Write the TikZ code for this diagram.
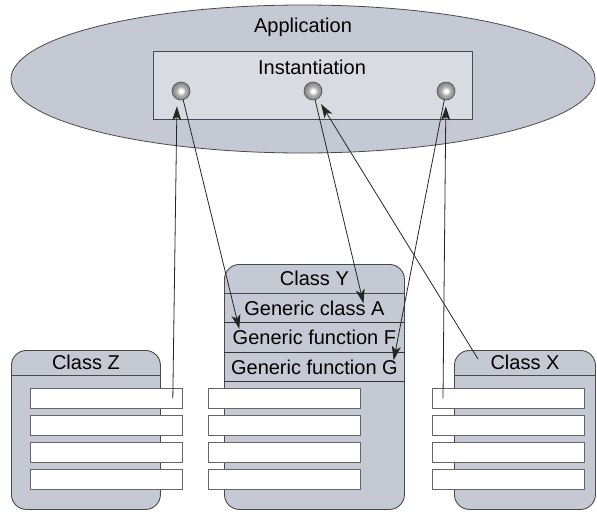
\documentclass[tikz,border=0pt]{standalone}
\usepackage{fontspec}
\setmainfont{Liberation Sans}
\usepackage{tikz}
\usetikzlibrary{shapes,arrows.meta,positioning}
\definecolor{appgray}{HTML}{C4C9D3}
\definecolor{instgray}{HTML}{D8DBE2}
\definecolor{edgegray}{HTML}{4A4A4A}
\pgfdeclareradialshading{portshade}{\pgfpoint{0bp}{0bp}}{color(0bp)=(white);
    color(5bp)=(white); color(12bp)=(black!30); color(24bp)=(black!48);
    color(38bp)=(black!62); color(50bp)=(black!78)}
\tikzstyle{app} = [draw=edgegray, fill=appgray, ellipse, line width=0.8pt]
\tikzstyle{inst} = [draw=edgegray, fill=instgray, rectangle, 
    line width=0.8pt, anchor=north west]
\tikzstyle{port} = [circle, draw=black!70, line width=0.6pt, minimum size=18pt,
    inner sep=0pt, shading=portshade]
\tikzstyle{classbox} = [draw=edgegray, fill=appgray, rectangle, 
    rounded corners=15pt, line width=0.9pt, anchor=north west]
\tikzstyle{head} = [rectangle, inner sep=0pt, minimum height=25pt]
\tikzstyle{member} = [rectangle, inner sep=0pt, minimum width=180pt, minimum height=29pt]
\tikzstyle{slot} = [draw=black!60, fill=white, rectangle, inner sep=0pt,
    minimum width=152pt, minimum height=20pt, anchor=north west, line width=0.8pt]
\tikzstyle{link} = [line width=0.8pt, draw=black!85]

\begin{document}
\begin{tikzpicture}[x=1pt, y=-1pt, font=\fontsize{20}{23}\selectfont,
    >={Stealth[length=14pt,width=9pt,inset=3.5pt]}]
    \useasboundingbox (0,0) rectangle (597,512);

    % We start by placing the application and its instantiation
    \node [app, minimum width=584pt, minimum height=148pt] (app) at (303,79) {};
    \node (apptext) at (303,27) {Application};
    \node [inst, minimum width=319pt, minimum height=68pt] (inst) at (153,51) {};
    \node (insttext) at (312,67) {Instantiation};
    \foreach \name/\x in {c1/181, c2/313, c3/446}
        \node [port] (\name) at (\x,91) {};

    % The three classes, Y holds the generic members
    \node [classbox, minimum width=149pt, minimum height=159pt] (zbox) at (11,350) {};
    \node [head, below=0pt of zbox.north] (zhead) {Class Z};
    \draw [edgegray, line width=0.9pt] (zbox.west |- zhead.south) -- (zbox.east |- zhead.south);

    \node [classbox, minimum width=180pt, minimum height=245pt] (ybox) at (224,264) {};
    \node [member, below=0pt of ybox.north] (yhead) {Class Y};
    \node [member, below=0pt of yhead] (yA) {Generic class A};
    \node [member, below=0pt of yA] (yF) {Generic function F};
    \node [member, below=0pt of yF] (yG) {Generic function G};
    \draw [edgegray, line width=1.6pt] (yhead.south west) -- (yhead.south east);
    \foreach \r in {yA, yF, yG}
        \draw [black!80, line width=0.9pt] (\r.south west) -- (\r.south east);

    \node [classbox, minimum width=141pt, minimum height=159pt] (xbox) at (454,350) {};
    \node [head, below=0pt of xbox.north] (xhead) {Class X};
    \draw [edgegray, line width=0.9pt] (xbox.west |- xhead.south) -- (xbox.east |- xhead.south);

    % Empty slots lying over the class boxes
    \foreach \i in {1,...,4} {
        \node [slot] (zrow\i) at (30, {388+27*(\i-1)}) {};
        \node [slot] (yrow\i) at (208, {388+27*(\i-1)}) {};
        \node [slot] (xrow\i) at (432, {388+27*(\i-1)}) {};
    }

    % Once the nodes are placed, the links go on top
    \draw [->, link, shorten >=6pt] ([xshift=-10pt]zrow1.east) -- ([xshift=-4pt]c1.south);
    \draw [->, link] (c1) -- ([shift={(15pt,-6pt)}]yF.north west);
    \draw [->, link] (c2) -- ([shift={(49pt,-10pt)}]yA.north);
    \draw [->, link, shorten >=6pt] ([shift={(24pt,-9pt)}]xbox.north west) -- (c2);
    \draw [->, link] (c3) -- ([shift={(-11pt,-8pt)}]yG.north east);
    \draw [->, link, shorten >=6pt] ([xshift=11pt]xrow1.west) -- (c3);

\end{tikzpicture}
\end{document}
